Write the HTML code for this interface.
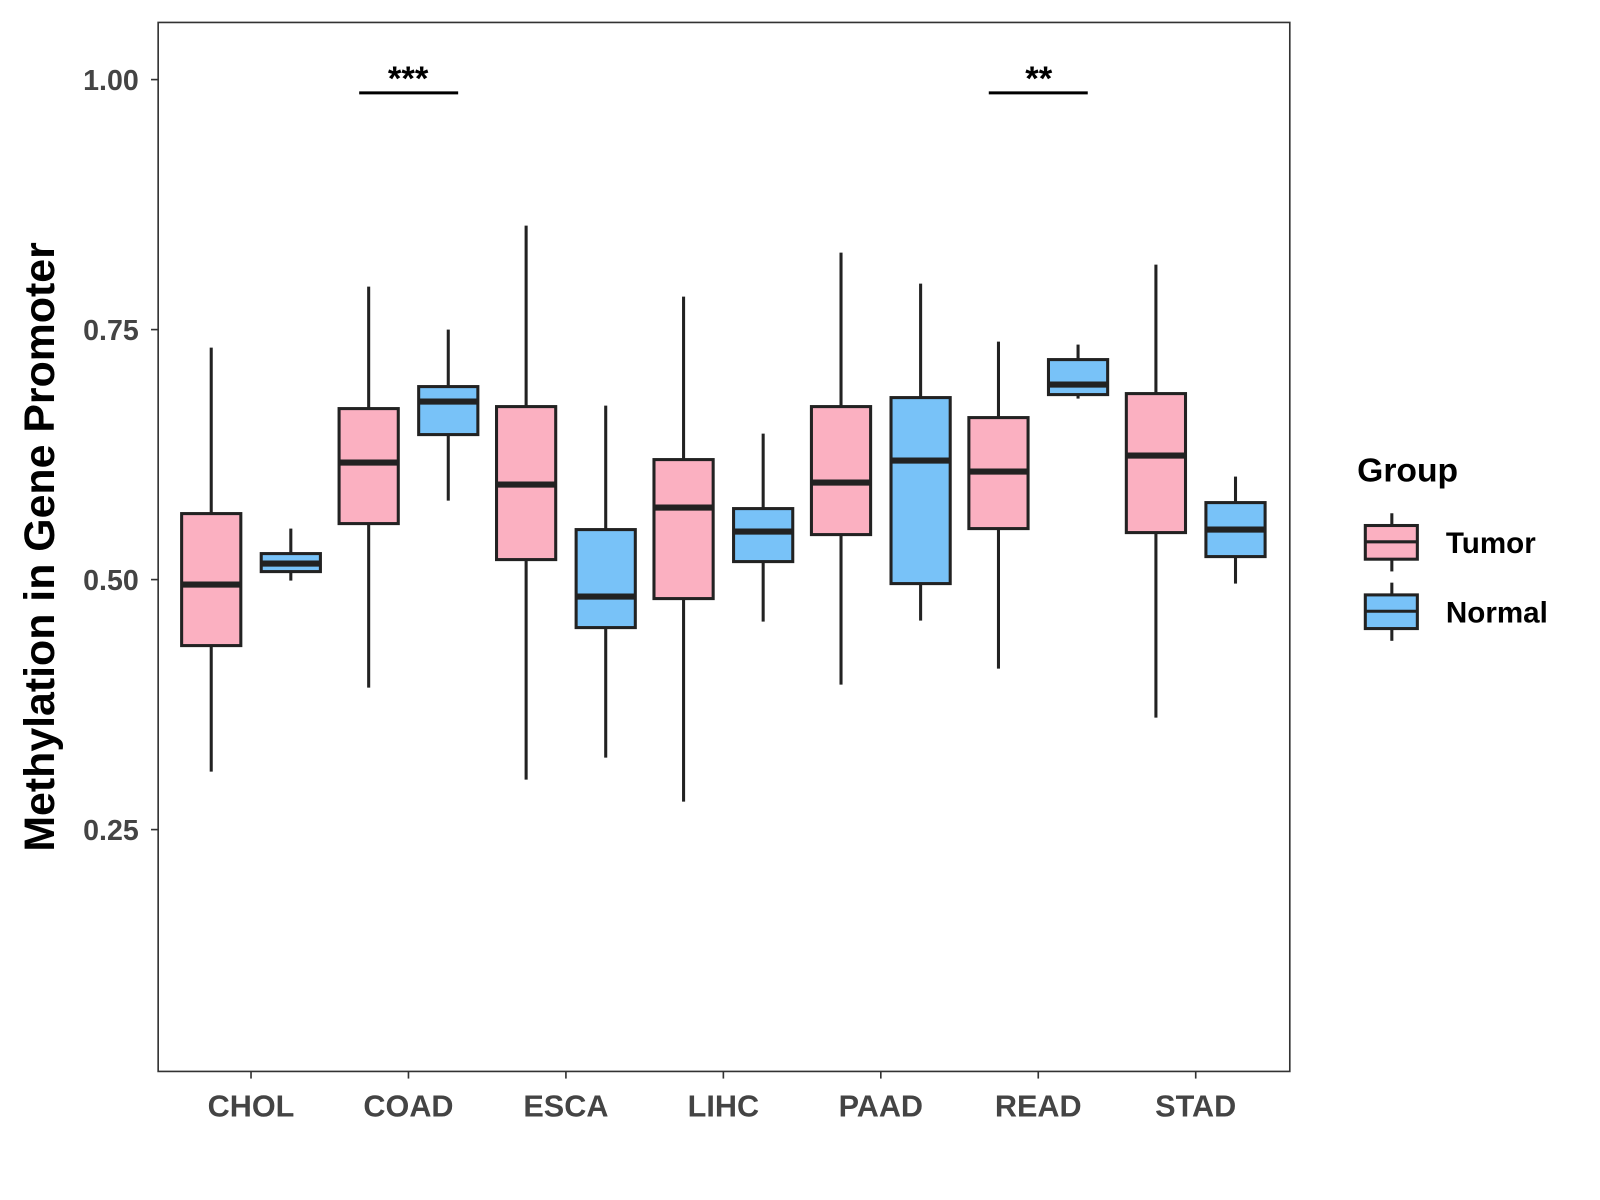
<!DOCTYPE html>
<html><head><meta charset="utf-8"><style>
html,body{margin:0;padding:0;background:#fff;}
svg{display:block;font-family:"Liberation Sans",Arial,sans-serif;}
</style></head><body>
<svg id="chart" width="1600" height="1200" viewBox="0 0 1568 1176" xmlns="http://www.w3.org/2000/svg">
<rect x="0" y="0" width="1568" height="1176" fill="#fff"/>
<rect x="155" y="22" width="1109" height="1028" fill="#fff" stroke="#333" stroke-width="1.6"/>
<g id="boxes"></g>
<g id="yaxis"></g>
<g id="xaxis"></g>
<text transform="translate(53,536) rotate(-90)" text-anchor="middle" font-size="42" font-weight="bold" fill="#000">Methylation in Gene Promoter</text>
<g>
<line x1="352" y1="91" x2="449" y2="91" stroke="#000" stroke-width="3"/>
<text x="400" y="88" text-anchor="middle" font-size="34" font-weight="bold">***</text>
</g>
<g>
<line x1="969" y1="91" x2="1066" y2="91" stroke="#000" stroke-width="3"/>
<text x="1018" y="88" text-anchor="middle" font-size="34" font-weight="bold">**</text>
</g>
<g>
<text x="1330" y="472" font-size="33" font-weight="bold">Group</text>
<g>
<line x1="1364" y1="503" x2="1364" y2="560" stroke="#222" stroke-width="3"/>
<rect x="1338" y="515" width="51" height="33" fill="#FBB0C1" stroke="#222" stroke-width="3"/>
<line x1="1338" y1="531" x2="1389" y2="531" stroke="#222" stroke-width="3"/>
<text x="1417" y="542" font-size="29" font-weight="bold">Tumor</text>
</g>
<g>
<line x1="1364" y1="571" x2="1364" y2="628" stroke="#222" stroke-width="3"/>
<rect x="1338" y="583" width="51" height="33" fill="#78C2F8" stroke="#222" stroke-width="3"/>
<line x1="1338" y1="599" x2="1389" y2="599" stroke="#222" stroke-width="3"/>
<text x="1417" y="610" font-size="29" font-weight="bold">Normal</text>
</g>
</g>
</svg>
<script>
const categories = ["CHOL","COAD","ESCA","LIHC","PAAD","READ","STAD"];
// [min, q1, median, q3, max]
const tumorStats = [
 [0.308,0.434,0.495,0.566,0.732],
 [0.392,0.556,0.617,0.671,0.793],
 [0.300,0.520,0.595,0.673,0.854],
 [0.278,0.481,0.572,0.620,0.783],
 [0.395,0.545,0.597,0.673,0.827],
 [0.411,0.551,0.608,0.662,0.738],
 [0.362,0.547,0.624,0.686,0.815]
];
const normalStats = [
 [0.499,0.508,0.516,0.526,0.551],
 [0.579,0.645,0.678,0.693,0.750],
 [0.322,0.452,0.483,0.550,0.674],
 [0.458,0.518,0.548,0.571,0.646],
 [0.459,0.496,0.619,0.682,0.796],
 [0.681,0.685,0.695,0.720,0.735],
 [0.496,0.523,0.550,0.577,0.603]
];
const yTicks = [0.25,0.50,0.75,1.00];
const yTickLabels = ["0.25","0.50","0.75","1.00"];

const NS="http://www.w3.org/2000/svg";
function yScale(v){return 78+(1-v)*980;}
function xScale(i){return 246+i*154.3;}
function mk(tag,attrs,parent){const e=document.createElementNS(NS,tag);for(const k in attrs)e.setAttribute(k,attrs[k]);parent.appendChild(e);return e;}

const boxes=document.getElementById('boxes');
function drawBox(s,cx,fill,name){
  const g=mk('g',{},boxes);
  
  
  const w=58;
  mk('line',{x1:cx,x2:cx,y1:yScale(s[4]),y2:yScale(s[3]),stroke:'#222','stroke-width':3},g);
  mk('line',{x1:cx,x2:cx,y1:yScale(s[1]),y2:yScale(s[0]),stroke:'#222','stroke-width':3},g);
  mk('rect',{x:cx-w/2,y:yScale(s[3]),width:w,height:yScale(s[1])-yScale(s[3]),fill:fill,stroke:'#222','stroke-width':3},g);
  mk('line',{x1:cx-w/2,x2:cx+w/2,y1:yScale(s[2]),y2:yScale(s[2]),stroke:'#222','stroke-width':6},g);
}
categories.forEach((c,i)=>{
  drawBox(tumorStats[i],xScale(i)-39,'#FBB0C1','box-tumor-'+c.toLowerCase());
  drawBox(normalStats[i],xScale(i)+39,'#78C2F8','box-normal-'+c.toLowerCase());
});
const ya=document.getElementById('yaxis');
yTicks.forEach((t,i)=>{
  const tk=mk('line',{x1:148,x2:155,y1:yScale(t),y2:yScale(t),stroke:'#333','stroke-width':1.6},ya);
  
  
  const tx=mk('text',{x:136,y:yScale(t)+10,'text-anchor':'end','font-size':28,'font-weight':'bold',fill:'#444'},ya);
  
  
  tx.textContent=yTickLabels[i];
});
const xa=document.getElementById('xaxis');
categories.forEach((c,i)=>{
  const tk=mk('line',{x1:xScale(i),x2:xScale(i),y1:1050,y2:1057,stroke:'#333','stroke-width':1.6},xa);
  
  
  const tx=mk('text',{x:xScale(i),y:1094,'text-anchor':'middle','font-size':30,'font-weight':'bold',fill:'#444'},xa);
  
  
  tx.textContent=c;
});
</script>
</body></html>
